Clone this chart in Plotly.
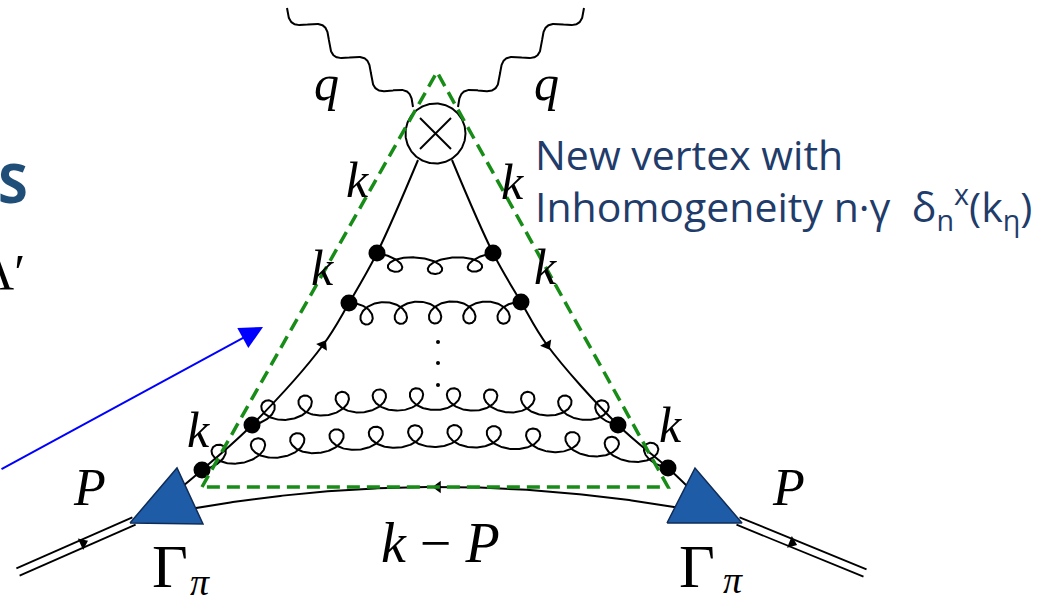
import numpy as np
import plotly.graph_objects as go

W, H = 1046, 603

# ---------------------------------------------------------------- content
# quark-gluon vertices along the two quark lines (top rung first)
rung_left_x = [377, 349, 252, 202]
rung_left_y = [253, 303, 425, 470]
rung_right_x = [493, 521, 618, 668]
rung_right_y = [253, 302, 425, 468]
rung_loops = [3, 5, 10, 12]

# quark lines from the operator insertion down to the pion vertices
quark_left_x = [418, 377, 349, 323, 252, 202, 183]
quark_left_y = [160, 253, 303, 345, 425, 470, 486]
quark_right_x = [452, 493, 521, 547, 618, 668, 687]
quark_right_y = [160, 253, 302, 345, 425, 468, 486]

# spectator line (k - P)
spectator_x = [188, 438, 684]
spectator_y = [509, 487, 509]

# pion vertices (triangles)
pion_left_x = [130, 203, 177]
pion_left_y = [523, 524, 468]
pion_right_x = [667, 742, 695]
pion_right_y = [523, 523, 468]

# external pion legs (double lines)
leg_left = [(18, 572), (134, 521)]
leg_right = [(738, 521), (865, 573)]

# operator insertion and photons
insertion = (435.5, 133.5, 30)
photon_left = [(287, 8), (413, 107)]
photon_right = [(584, 8), (458, 107)]

# dashed box around the new vertex
box_x = [202, 437, 668, 202]
box_y = [487, 72, 487, 487]

# math labels: text, x, y, size
labels = [
    ("<i>q</i>", 326, 83, 50),
    ("<i>q</i>", 546, 83, 50),
    ("<i>k</i>", 357, 180, 50),
    ("<i>k</i>", 512, 182, 50),
    ("<i>k</i>", 322, 268, 50),
    ("<i>k</i>", 545, 267, 50),
    ("<i>k</i>", 198, 430, 50),
    ("<i>k</i>", 670, 425, 50),
    ("<i>P</i>", 89, 487, 52),
    ("<i>P</i>", 788, 487, 52),
    ("<i>k</i> \u2212 <i>P</i>", 440, 543, 56),
    ("\u0393", 170, 566, 62),
    ("\u0393", 697, 566, 62),
    ("<i>\u03c0</i>", 200, 582, 38),
    ("<i>\u03c0</i>", 733, 580, 38),
]

fig = go.Figure()


def add_path(x, y, color="black", width=2.0, dash=None, shape="linear", fill=None, fillcolor=None):
    fig.add_trace(go.Scatter(
        x=list(x), y=list(y), mode="lines",
        line=dict(color=color, width=width, dash=dash, shape=shape, smoothing=1.0),
        fill=fill, fillcolor=fillcolor,
        hoverinfo="skip", showlegend=False))


def photon_path(p0, p1, periods, amp):
    p0 = np.array(p0, float)
    p1 = np.array(p1, float)
    d = p1 - p0
    u = d / np.hypot(*d)
    n = np.array([-u[1], u[0]])
    t = np.linspace(0, 1, 500)
    pts = p0 + t[:, None] * d + (amp * np.sin(2 * np.pi * periods * t))[:, None] * n
    return pts[:, 0], pts[:, 1]


def gluon_path(x0, y0, x1, y1, loops, bend, side, r_n):
    p0 = np.array([x0, y0], float)
    p2 = np.array([x1, y1], float)
    d = p2 - p0
    L = np.hypot(*d)
    u = d / L
    up = np.array([u[1], -u[0]])
    pc = (p0 + p2) / 2 + 2 * bend * up
    th = np.linspace(0, 2 * np.pi * loops, 120 * loops + 1)
    c = L / (2 * np.pi * loops)
    r_t = 2.5 * c
    f = np.clip((c * th + r_t * np.sin(th)) / L, 0, 1)
    fc = f[:, None]
    base = (1 - fc) ** 2 * p0 + 2 * (1 - fc) * fc * pc + fc ** 2 * p2
    tang = 2 * (1 - fc) * (pc - p0) + 2 * fc * (p2 - pc)
    tang /= np.linalg.norm(tang, axis=1)[:, None]
    nrm = np.stack([tang[:, 1], -tang[:, 0]], axis=1)
    off = side * r_n * (1 - np.cos(th))
    pts = base + off[:, None] * nrm
    return pts[:, 0], pts[:, 1]


# photons
for (p0, p1), amp in ((photon_left, 8.5), (photon_right, -8.5)):
    px, py = photon_path(p0, p1, 3, amp)
    add_path(px, py, width=2)

# operator insertion: circle with a cross
cx, cy, r = insertion
ang = np.linspace(0, 2 * np.pi, 200)
add_path(cx + r * np.cos(ang), cy + r * np.sin(ang), width=2, fill="toself", fillcolor="white")
a = 15.5
add_path([cx - a, cx + a], [cy - a, cy + a], width=2)
add_path([cx - a, cx + a], [cy + a, cy - a], width=2)

# quark lines
add_path(quark_left_x, quark_left_y, width=2, shape="spline")
add_path(quark_right_x, quark_right_y, width=2, shape="spline")

# spectator line (parabolic arc)
sx = np.linspace(spectator_x[0], spectator_x[2], 200)
half = (spectator_x[2] - spectator_x[0]) / 2
sy = spectator_y[1] + (spectator_y[0] - spectator_y[1]) * ((sx - spectator_x[1]) / half) ** 2
add_path(sx, sy, width=2)

# gluon rungs: bend (+ arches up), loop side (+ up), loop radius
rung_geom = [(-5, -1, 8), (1, -1, 11), (15, 1, 11), (22, 1, 11)]
for i in range(len(rung_loops)):
    bend, side, r_n = rung_geom[i]
    gx, gy = gluon_path(rung_left_x[i], rung_left_y[i], rung_right_x[i], rung_right_y[i],
                        rung_loops[i], bend, side, r_n)
    add_path(gx, gy, width=2)

# external pion legs: two parallel lines each
for (p0, p1) in (leg_left, leg_right):
    p0 = np.array(p0, float)
    p1 = np.array(p1, float)
    d = p1 - p0
    u = d / np.hypot(*d)
    n = np.array([-u[1], u[0]])
    for s in (-4.0, 4.0):
        add_path([p0[0] + s * n[0], p1[0] + s * n[0]], [p0[1] + s * n[1], p1[1] + s * n[1]], width=1.8)

# pion vertices
for tx, ty in ((pion_left_x, pion_left_y), (pion_right_x, pion_right_y)):
    add_path(tx + tx[:1], ty + ty[:1], color="#0f2c57", width=1.5, fill="toself", fillcolor="#1f5ca8")

# vertex dots
fig.add_trace(go.Scatter(
    x=rung_left_x + rung_right_x, y=rung_left_y + rung_right_y, mode="markers",
    marker=dict(size=17, color="black", line=dict(width=0)),
    hoverinfo="skip", showlegend=False))

# ellipsis between rungs
fig.add_trace(go.Scatter(
    x=[438, 438, 438], y=[342, 363, 385], mode="markers",
    marker=dict(size=4, color="black"), hoverinfo="skip", showlegend=False))

# momentum-flow arrowheads
fig.add_trace(go.Scatter(
    x=[323, 547, 438, 83, 792], y=[345, 345, 487, 543, 543], mode="markers",
    marker=dict(symbol="triangle-up", size=11, color="black",
                angle=[32, 151, 270, 65, 112], line=dict(width=0)),
    hoverinfo="skip", showlegend=False))

# dashed triangle marking the new vertex
add_path(box_x, box_y, color="#178c17", width=3.5, dash="13px,7px")

annotations = []
for text, x, y, size in labels:
    annotations.append(dict(
        x=x, y=y, xref="x", yref="y", text=text, showarrow=False,
        xanchor="center", yanchor="middle",
        font=dict(family="Liberation Serif", size=size, color="black")))

# pointer arrow
annotations.append(dict(
    x=263, y=327, ax=0, ay=470, xref="x", yref="y", axref="x", ayref="y",
    text="", showarrow=True, arrowhead=2, arrowsize=2.3, arrowwidth=2,
    arrowcolor="#0000ff", standoff=0, startstandoff=0))

txt_color = "#1f3c6a"
annotations.append(dict(
    x=533, y=154, xref="x", yref="y", text="New vertex with", showarrow=False,
    xanchor="left", yanchor="middle",
    font=dict(family="Open Sans", size=41, color=txt_color)))
annotations.append(dict(
    x=533, y=206, xref="x", yref="y",
    text="Inhomogeneity n\u00b7\u03b3\u00a0 \u03b4<sub>n</sub><sup>x</sup>(k<sub>\u03b7</sub>)",
    showarrow=False, xanchor="left", yanchor="middle",
    font=dict(family="Open Sans", size=41, color=txt_color)))

# partially visible slide text on the left edge
annotations.append(dict(
    x=0, y=182, xref="x", yref="y", text="<b>S</b>", showarrow=False,
    xanchor="left", yanchor="middle", xshift=-4,
    font=dict(family="Open Sans", size=54, color="#1f4e79")))
annotations.append(dict(
    x=27, y=272, xref="x", yref="y", text="\u039b\u2032", showarrow=False,
    xanchor="right", yanchor="middle",
    font=dict(family="Liberation Serif", size=50, color="black")))

fig.update_layout(
    width=W, height=H, margin=dict(l=0, r=0, t=0, b=0),
    paper_bgcolor="white", plot_bgcolor="white",
    xaxis=dict(range=[0, W], visible=False, fixedrange=True),
    yaxis=dict(range=[H, 0], visible=False, fixedrange=True),
    annotations=annotations, showlegend=False)

fig.write_html("out.html")
